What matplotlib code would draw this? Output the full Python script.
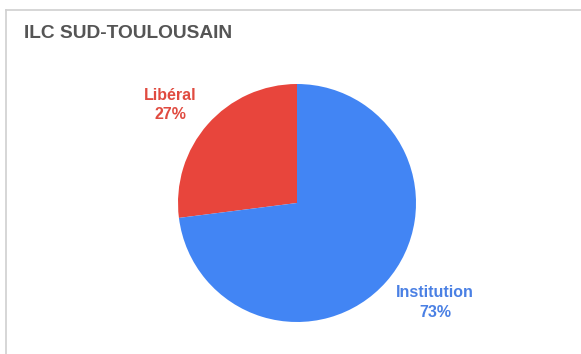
import matplotlib.pyplot as plt
from matplotlib.lines import Line2D

plt.rcParams['font.family'] = ['Liberation Sans', 'DejaVu Sans']

# donnees du graphique
titre = "ILC SUD-TOULOUSAIN"
categories = ["Libéral", "Institution"]
parts = [27, 73]
couleurs = ["#E8453C", "#4285F4"]
couleurs_texte = ["#E04B40", "#4A80E4"]

W, H = 581, 354
fig = plt.figure(figsize=(W / 100, H / 100), dpi=100)
fig.patch.set_facecolor("white")

# cadre gris clair (haut et gauche)
fig.add_artist(Line2D([5.5 / W, 1], [1 - 9.5 / H, 1 - 9.5 / H], color="#D0D0D0", lw=1.2))
fig.add_artist(Line2D([5.5 / W, 5.5 / W], [0, 1 - 9.5 / H], color="#D0D0D0", lw=1.2))

fig.text(24 / W, 1 - 34 / H, titre, fontsize=13.8, fontweight="bold",
         color="#555555", va="center", ha="left")

# camembert : centre (297, 203), rayon 119 px
cx, cy, r = 297, 203, 119
ax = fig.add_axes([(cx - r) / W, (H - cy - r) / H, 2 * r / W, 2 * r / H])
ax.pie(parts, colors=couleurs, startangle=90, counterclock=True, radius=1,
       wedgeprops=dict(linewidth=0))
ax.set_xlim(-1, 1)
ax.set_ylim(-1, 1)
ax.set_aspect("auto")
ax.axis("off")

# etiquettes
positions = [(170, 105), (435, 302.5)]
for cat, val, coul, (x, y) in zip(categories, parts, couleurs_texte, positions):
    fig.text(x / W, 1 - y / H, f"{cat}\n{val}%", fontsize=11.5, fontweight="bold",
             color=coul, ha="center", va="center", linespacing=1.38)

fig.savefig("out.png", dpi=100)
